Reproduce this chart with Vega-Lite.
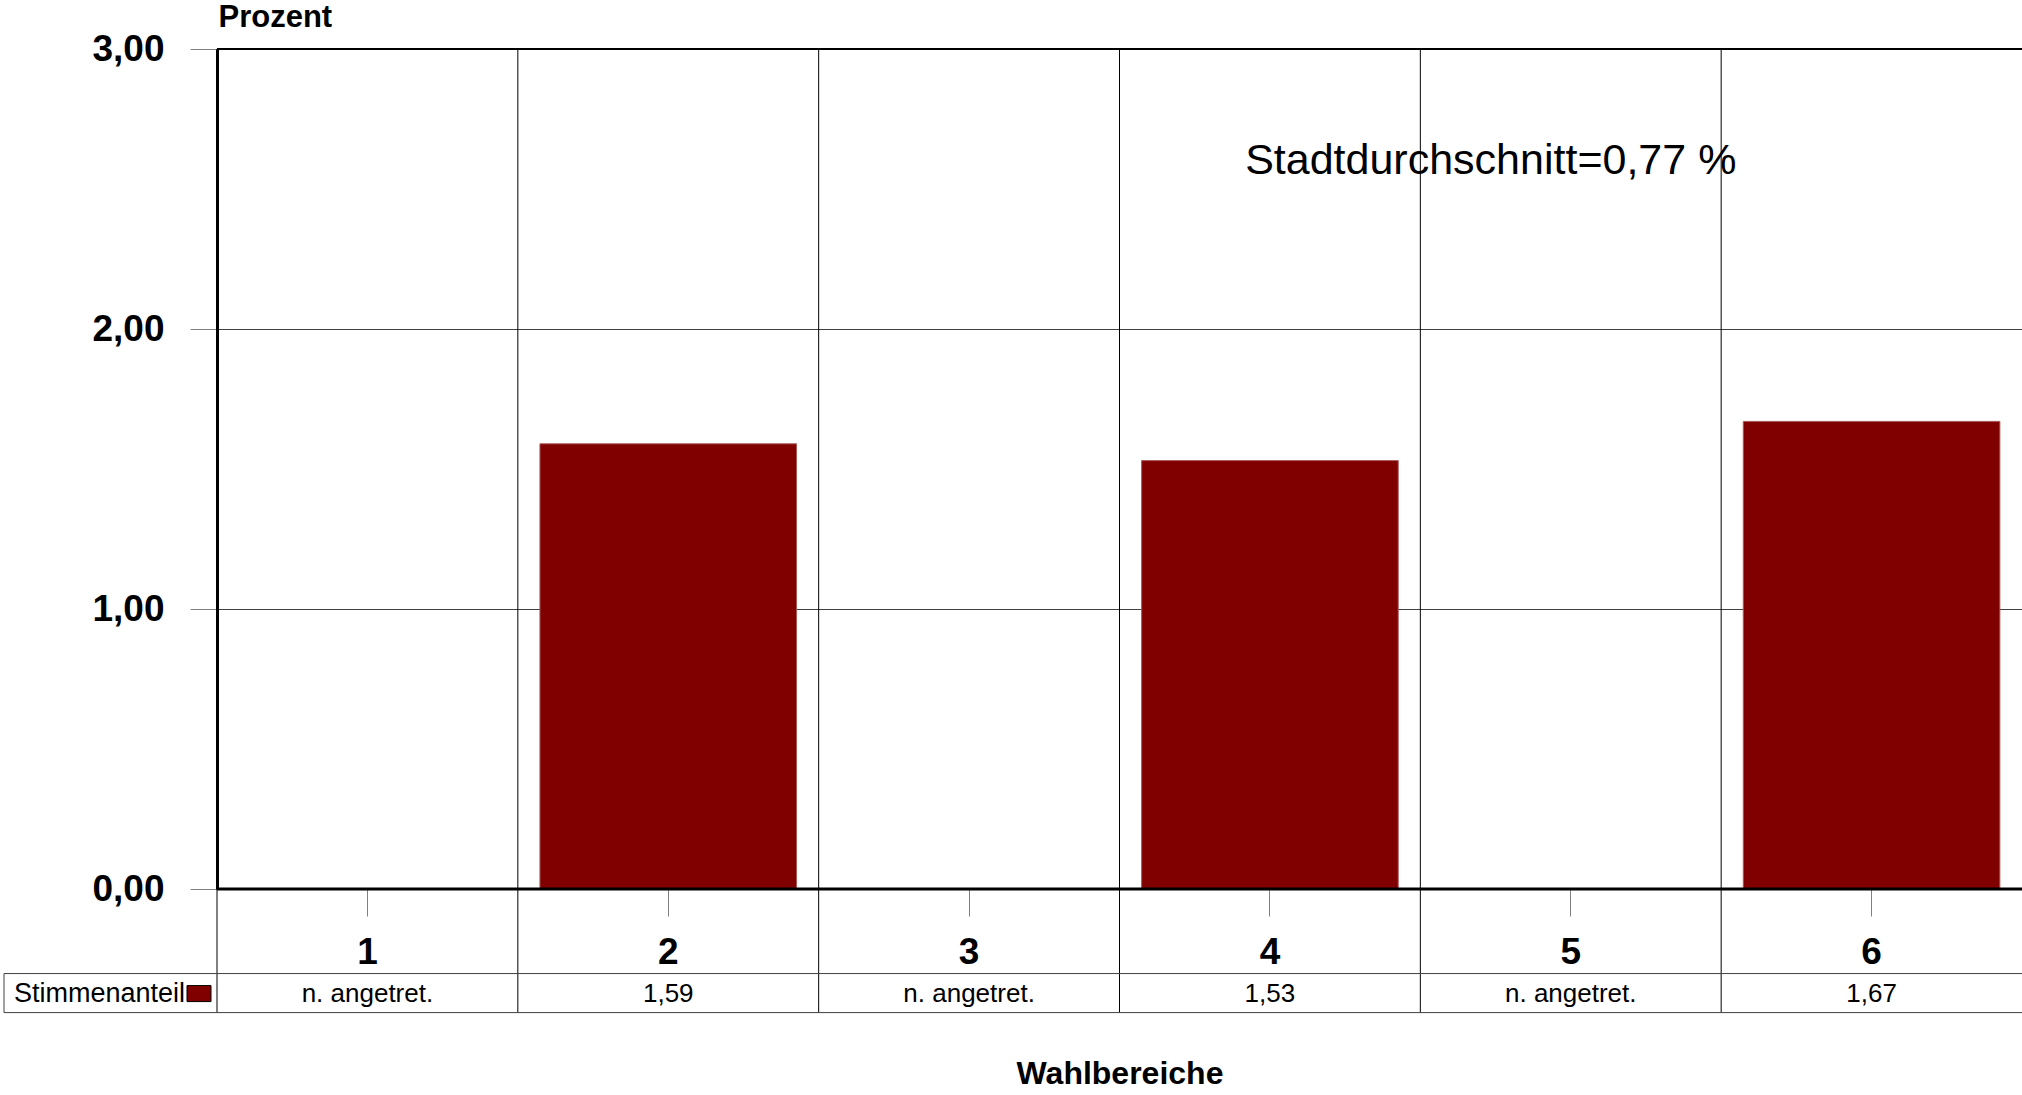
{
  "$schema": "https://vega.github.io/schema/vega-lite/v6.json",
  "autosize": {"type": "none"},
  "padding": {"left": 217, "top": 49, "right": 0, "bottom": 206},
  "width": 1805,
  "height": 840,
  "background": "white",
  "config": {
    "view": {"stroke": null},
    "font": "Liberation Sans"
  },
  "data": {
    "values": [
      {"Wahlbereich": "1", "Anteil": null, "label": "n. angetret."},
      {"Wahlbereich": "2", "Anteil": 1.59, "label": "1,59"},
      {"Wahlbereich": "3", "Anteil": null, "label": "n. angetret."},
      {"Wahlbereich": "4", "Anteil": 1.53, "label": "1,53"},
      {"Wahlbereich": "5", "Anteil": null, "label": "n. angetret."},
      {"Wahlbereich": "6", "Anteil": 1.67, "label": "1,67"}
    ]
  },
  "resolve": {"axis": {"x": "independent", "y": "independent"}},
  "layer": [
    {
      "mark": {"type": "bar", "width": {"band": 0.853}, "color": "#800000", "stroke": "#a85a5a", "strokeWidth": 1},
      "encoding": {
        "x": {
          "field": "Wahlbereich", "type": "ordinal",
          "scale": {"type": "band", "paddingInner": 0, "paddingOuter": 0, "domain": ["1", "2", "3", "4", "5", "6"]},
          "axis": {
            "title": "Wahlbereiche", "titleFont": "Liberation Sans", "titleFontWeight": "bold", "titleFontSize": 32,
            "titleColor": "#000", "titleY": 184, "titleBaseline": "middle",
            "labelAngle": 0, "labelFontSize": 37, "labelFontWeight": "bold", "labelColor": "#000",
            "labelBaseline": "middle", "labelPadding": 36,
            "tickSize": 27, "tickColor": "#808080", "tickWidth": 1,
            "domain": false, "grid": false
          }
        },
        "y": {
          "field": "Anteil", "type": "quantitative",
          "scale": {"domain": [0, 3], "nice": false},
          "axis": {
            "title": "Prozent", "titleAngle": 0, "titleAlign": "left", "titleBaseline": "middle",
            "titleX": 1, "titleY": -32, "titleFontSize": 31, "titleFontWeight": "bold", "titleColor": "#000",
            "values": [0, 1, 2, 3],
            "labelExpr": "replace(format(datum.value, '.2f'), '.', ',')",
            "labelFontSize": 37, "labelFontWeight": "bold", "labelColor": "#000", "labelPadding": 26,
            "tickSize": 27, "tickColor": "#808080", "tickWidth": 1,
            "domain": true, "domainColor": "#000", "domainWidth": 3,
            "grid": true, "gridColor": "#404040", "gridWidth": 1
          }
        }
      }
    },
    {
      "mark": {"type": "rule", "color": "#000", "strokeWidth": 1},
      "encoding": {
        "x": {"field": "Wahlbereich", "type": "ordinal", "bandPosition": 0, "axis": null},
        "y": {"datum": 3, "type": "quantitative", "axis": null},
        "y2": {"datum": -0.4414}
      }
    },
    {
      "data": {"values": [{}]},
      "mark": {"type": "rule", "color": "#000", "strokeWidth": 2},
      "encoding": {
        "y": {"datum": 3, "type": "quantitative", "axis": null}
      }
    },
    {
      "data": {"values": [{}]},
      "mark": {"type": "rule", "color": "#000", "strokeWidth": 3},
      "encoding": {
        "y": {"datum": 0, "type": "quantitative", "axis": null}
      }
    },
    {
      "data": {"values": [{"pos": -0.302}, {"pos": -0.4414}]},
      "mark": {"type": "rule", "color": "#404040", "strokeWidth": 1, "xOffset": -213, "x2Offset": 200},
      "encoding": {
        "x": {"datum": "1", "type": "ordinal", "bandPosition": 0, "axis": null},
        "x2": {"datum": "6"},
        "y": {"field": "pos", "type": "quantitative", "axis": null}
      }
    },
    {
      "data": {"values": [{}]},
      "mark": {"type": "rule", "color": "#404040", "strokeWidth": 1, "xOffset": -213},
      "encoding": {
        "x": {"datum": "1", "type": "ordinal", "bandPosition": 0, "axis": null},
        "y": {"datum": -0.302, "type": "quantitative", "axis": null},
        "y2": {"datum": -0.4414}
      }
    },
    {
      "mark": {"type": "text", "fontSize": 26, "align": "center", "baseline": "middle", "color": "#000"},
      "encoding": {
        "x": {"field": "Wahlbereich", "type": "ordinal", "axis": null},
        "y": {"datum": -0.3735, "type": "quantitative", "axis": null},
        "text": {"field": "label"}
      }
    },
    {
      "data": {"values": [{"Reihe": "Stimmenanteil"}]},
      "mark": {"type": "text", "fontSize": 27, "align": "right", "baseline": "middle", "color": "#000", "xOffset": -32},
      "encoding": {
        "x": {"datum": "1", "type": "ordinal", "bandPosition": 0, "axis": null},
        "y": {"datum": -0.3735, "type": "quantitative", "axis": null},
        "text": {"field": "Reihe"}
      }
    },
    {
      "data": {"values": [{}]},
      "mark": {"type": "point", "filled": true, "shape": "M-1,-0.667L1,-0.667L1,0.667L-1,0.667Z", "size": 576, "fill": "#800000", "stroke": "#000", "strokeWidth": 1, "opacity": 1, "xOffset": -18},
      "encoding": {
        "x": {"datum": "1", "type": "ordinal", "bandPosition": 0, "axis": null},
        "y": {"datum": -0.3735, "type": "quantitative", "axis": null}
      }
    },
    {
      "data": {"values": [{"Hinweis": "Stadtdurchschnitt=0,77 %"}]},
      "mark": {"type": "text", "fontSize": 43, "align": "center", "baseline": "middle", "color": "#000", "xOffset": -80},
      "encoding": {
        "x": {"datum": "5", "type": "ordinal", "axis": null},
        "y": {"datum": 2.6, "type": "quantitative", "axis": null},
        "text": {"field": "Hinweis"}
      }
    }
  ]
}
